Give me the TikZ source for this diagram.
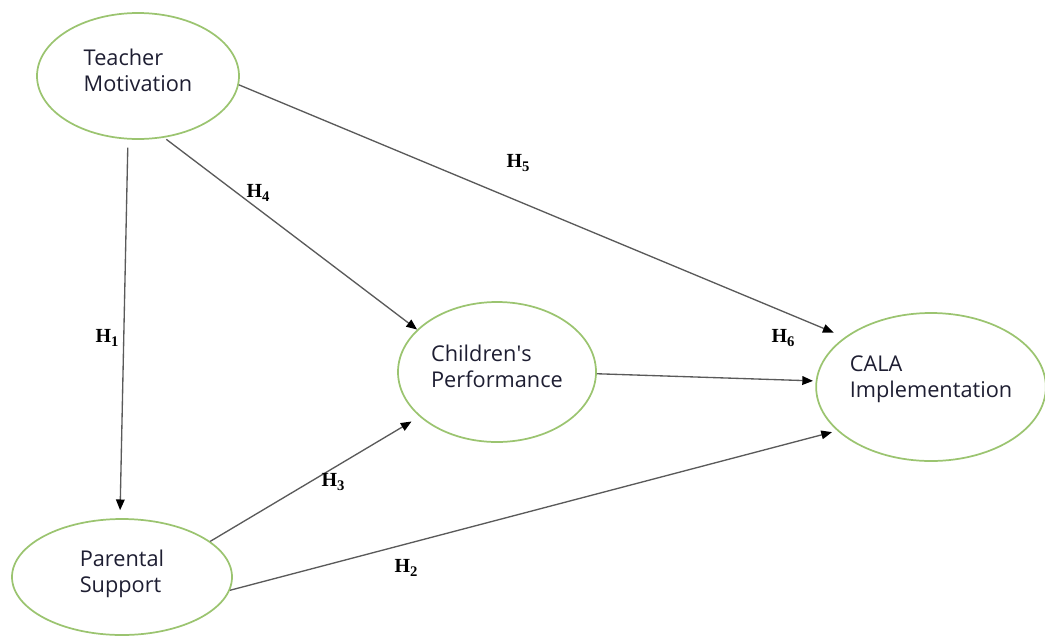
\documentclass[tikz,border=0pt]{standalone}
\usepackage{fontspec}
\setmainfont{Open Sans}
\newfontfamily\hypfont{Liberation Serif}
\usetikzlibrary{arrows.meta,shapes.geometric}
\definecolor{ovalgreen}{RGB}{155,196,112}
\definecolor{linegray}{RGB}{90,90,90}
\definecolor{textdark}{RGB}{30,30,50}
\newcommand{\hyp}[1]{{\hypfont\bfseries H\raisebox{-0.4ex}{\fontsize{11}{11}\selectfont #1}}}

\begin{document}
\begin{tikzpicture}[x=0.75pt, y=-0.75pt,
    construct/.style={draw=ovalgreen, line width=1.3pt, ellipse, inner sep=0pt,
      align=left, text=textdark, font=\fontsize{16.3}{19.5}\selectfont, text depth=9pt},
    link/.style={draw=linegray, line width=1pt, -{Triangle[length=8pt,width=6.5pt,color=black]}},
    hyplabel/.style={font=\fontsize{15}{15}\selectfont, inner sep=1pt}]
    \useasboundingbox (0,0) rectangle (1045,636);

    % Constructs
    \node[construct, minimum width=151.5pt, minimum height=94.5pt] (tm) at (138,76) {Teacher\\Motivation};
    \node[construct, minimum width=148.5pt, minimum height=105pt] (cp) at (497,372) {Children\textquotesingle s\\Performance};
    \node[construct, minimum width=169.5pt, minimum height=111pt, text depth=15pt] (ci) at (931,387) {CALA\\Implementation};
    \node[construct, minimum width=165pt, minimum height=87pt] (ps) at (122,577) {Parental\\Support};

    % Hypothesised paths
    \draw[link, shorten <=6pt, shorten >=6pt] (tm.-99) -- (ps.92);
    \draw[link, shorten <=2pt] (tm.-67.7) -- (cp.152.9);
    \draw[link, shorten >=9pt] (tm.-5.2) -- (ci.150.6);
    \draw[link, shorten >=2pt] (cp.-1.7) -- (ci.177);
    \draw[link, shorten >=7pt] (ps.22.8) -- (cp.210.8);
    \draw[link, shorten >=4pt] (ps.-7.6) -- (ci.205.6);

    % Labels
    \node[hyplabel] (h1) at (107,338) {\hyp{1}};
    \node[hyplabel] (h2) at (406,568) {\hyp{2}};
    \node[hyplabel] (h3) at (333,482) {\hyp{3}};
    \node[hyplabel] (h4) at (258,193) {\hyp{4}};
    \node[hyplabel] (h5) at (518,163) {\hyp{5}};
    \node[hyplabel] (h6) at (783,338) {\hyp{6}};
\end{tikzpicture}
\end{document}
